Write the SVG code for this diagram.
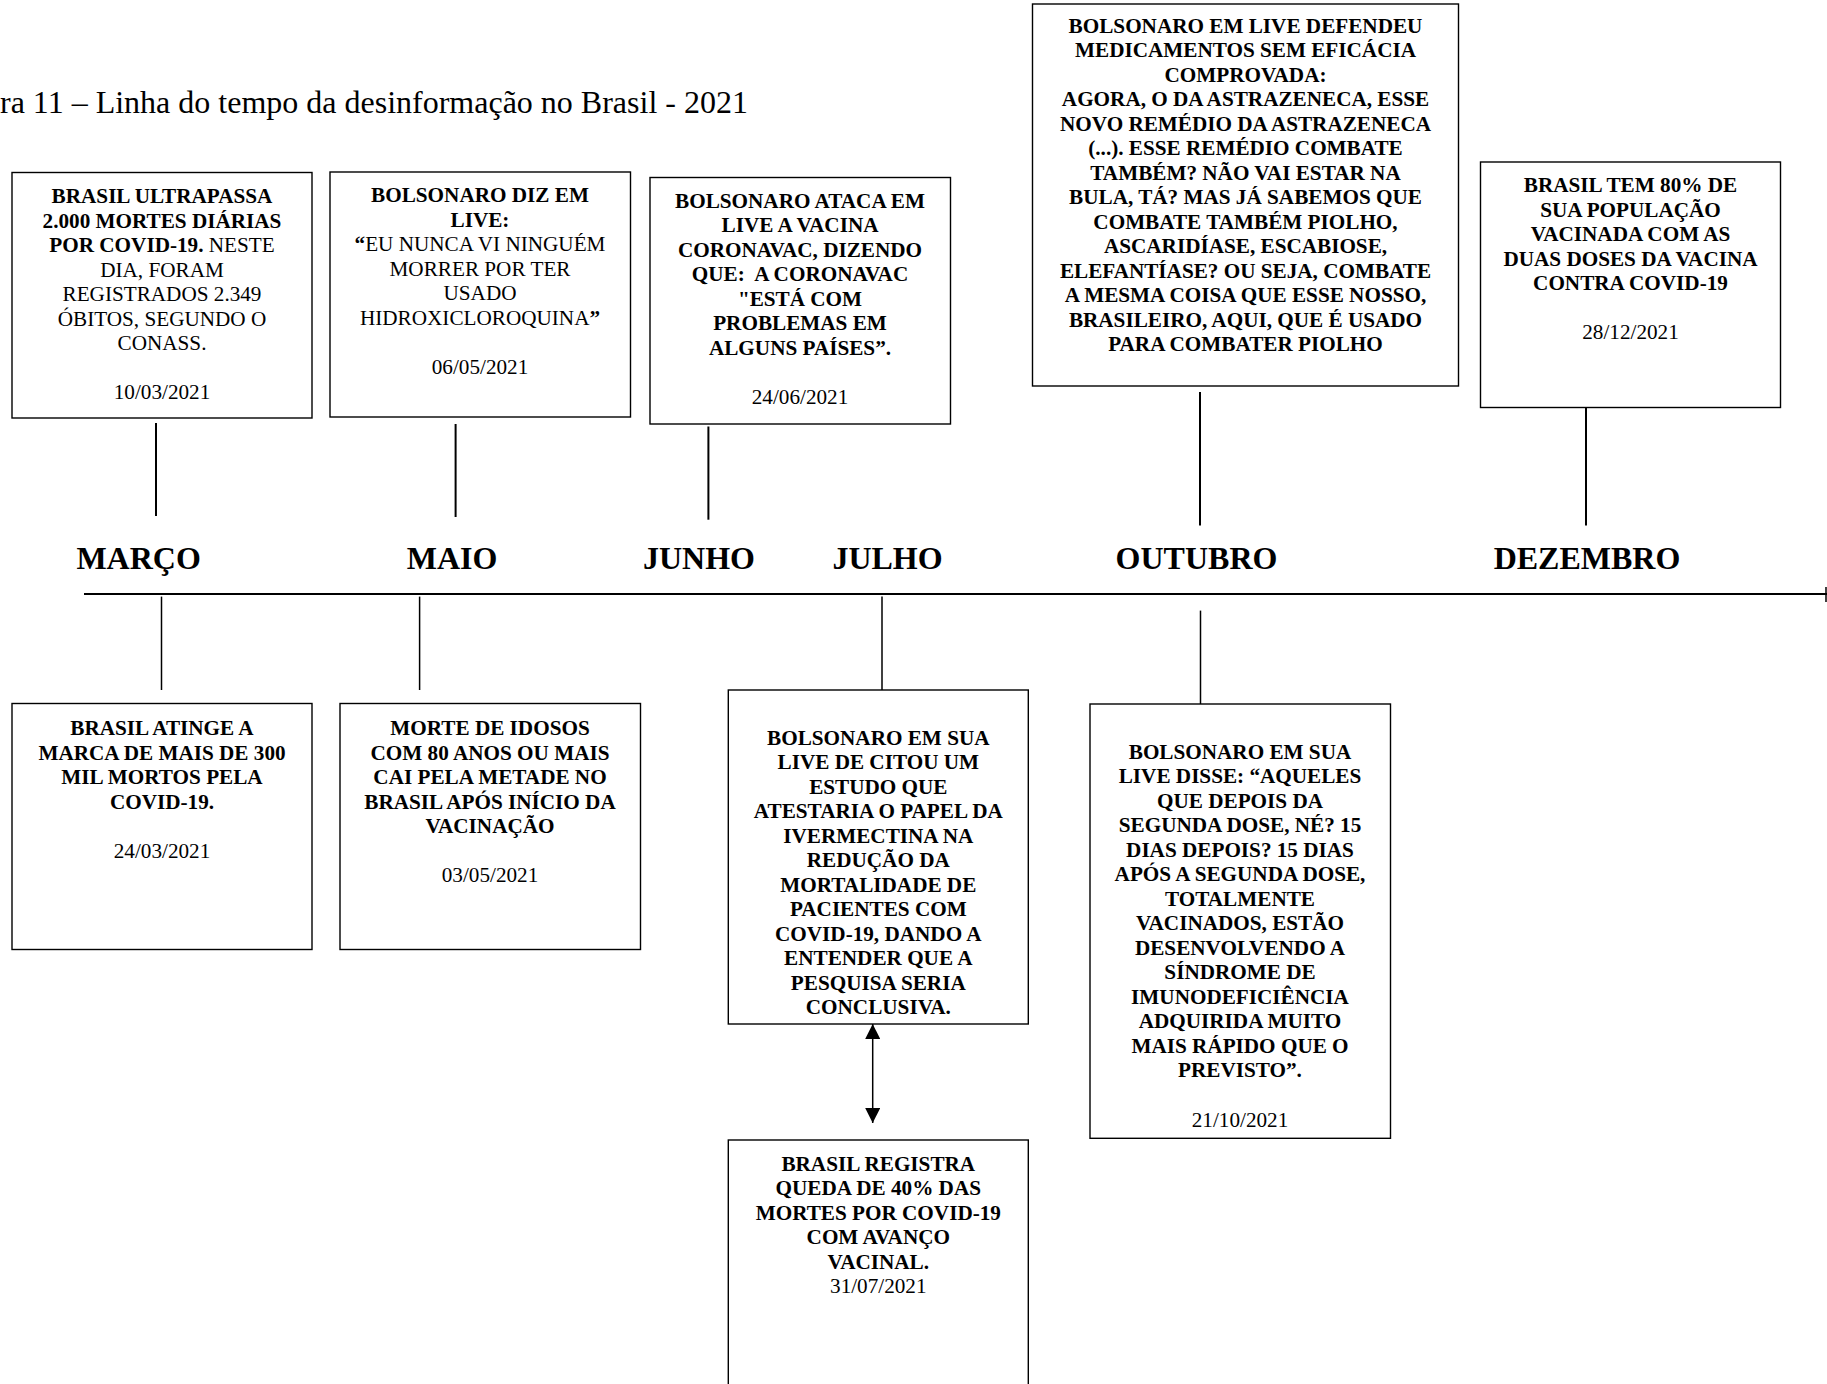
<svg xmlns="http://www.w3.org/2000/svg" width="1827" height="1384" viewBox="0 0 1827 1384">
<defs>
<style>
.box{fill:#fff;stroke:#000;stroke-width:1.4}
.t{font-family:"Liberation Serif","Times New Roman",serif;font-size:21.2px;font-weight:bold;text-anchor:middle;fill:#000}
.r{font-weight:normal}
.b{font-weight:bold}
.m{font-family:"Liberation Serif","Times New Roman",serif;font-size:32px;font-weight:bold;text-anchor:middle;fill:#000}
.title{font-family:"Liberation Serif","Times New Roman",serif;font-size:32px;fill:#000}
.c{stroke:#000;stroke-width:2;fill:none}
.c2{stroke:#000;stroke-width:1.5;fill:none}
</style>
<marker id="ah" viewBox="0 0 15 15" refX="15" refY="7.5" markerWidth="15" markerHeight="15" markerUnits="userSpaceOnUse" orient="auto-start-reverse">
<path d="M0,0 L15,7.5 L0,15 Z" fill="#000"/>
</marker>
</defs>
<rect width="1827" height="1384" fill="#fff"/>
<text class="title" x="0" y="113">ra 11 – Linha do tempo da desinformação no Brasil - 2021</text>

<g id="connectors">
<line class="c" x1="156" y1="423" x2="156" y2="516"/>
<line class="c" x1="455.6" y1="424" x2="455.6" y2="517"/>
<line class="c" x1="708.4" y1="426.5" x2="708.4" y2="519.7"/>
<line class="c" x1="1200" y1="392" x2="1200" y2="525.5"/>
<line class="c" x1="1586" y1="408" x2="1586" y2="525.5"/>
<line class="c" x1="84" y1="594" x2="1827" y2="594"/>
<line class="c2" x1="1826" y1="587" x2="1826" y2="602"/>
<line class="c2" x1="161.5" y1="596.6" x2="161.5" y2="690"/>
<line class="c2" x1="419.6" y1="596.6" x2="419.6" y2="690"/>
<line class="c2" x1="882" y1="596.6" x2="882" y2="690"/>
<line class="c2" x1="1200.5" y1="610.6" x2="1200.5" y2="704"/>
<line class="c2" x1="872.7" y1="1024" x2="872.7" y2="1123" marker-start="url(#ah)" marker-end="url(#ah)"/>
</g>

<g id="months">
<text class="m" x="138.6" y="568.5">MARÇO</text>
<text class="m" x="452" y="568.5">MAIO</text>
<text class="m" x="699" y="568.5">JUNHO</text>
<text class="m" x="887.5" y="568.5">JULHO</text>
<text class="m" x="1196.5" y="568.5">OUTUBRO</text>
<text class="m" x="1587" y="568.5">DEZEMBRO</text>
</g>

<g id="n1">
<rect class="box" x="12" y="172.5" width="300" height="245.5"/>
<text class="t" x="162" y="203.3">BRASIL ULTRAPASSA</text>
<text class="t" x="162" y="227.8">2.000 MORTES DIÁRIAS</text>
<text class="t" x="162" y="252.3">POR COVID-19.<tspan class="r"> NESTE</tspan></text>
<text class="t r" x="162" y="276.8">DIA, FORAM</text>
<text class="t r" x="162" y="301.3">REGISTRADOS 2.349</text>
<text class="t r" x="162" y="325.8">ÓBITOS, SEGUNDO O</text>
<text class="t r" x="162" y="350.3">CONASS.</text>
<text class="t r" x="162" y="399.3">10/03/2021</text>
</g>

<g id="n2">
<rect class="box" x="330" y="172" width="300.5" height="245"/>
<text class="t" x="480" y="202">BOLSONARO DIZ EM</text>
<text class="t" x="480" y="226.5">LIVE:</text>
<text class="t" x="480" y="251">“<tspan class="r">EU NUNCA VI NINGUÉM</tspan></text>
<text class="t r" x="480" y="275.5">MORRER POR TER</text>
<text class="t r" x="480" y="300">USADO</text>
<text class="t r" x="480" y="324.5">HIDROXICLOROQUINA<tspan class="b">”</tspan></text>
<text class="t r" x="480" y="373.5">06/05/2021</text>
</g>

<g id="n3">
<rect class="box" x="650" y="177.5" width="300.5" height="246.5"/>
<text class="t" x="800" y="207.5">BOLSONARO ATACA EM</text>
<text class="t" x="800" y="232">LIVE A VACINA</text>
<text class="t" x="800" y="256.5">CORONAVAC, DIZENDO</text>
<text class="t" x="800" y="281">QUE:&#160; A CORONAVAC</text>
<text class="t" x="800" y="305.5">"ESTÁ COM</text>
<text class="t" x="800" y="330">PROBLEMAS EM</text>
<text class="t" x="800" y="354.5">ALGUNS PAÍSES”.</text>
<text class="t r" x="800" y="403.5">24/06/2021</text>
</g>

<g id="n4">
<rect class="box" x="1032.5" y="4" width="426" height="382"/>
<text class="t" x="1245.5" y="32.6">BOLSONARO EM LIVE DEFENDEU</text>
<text class="t" x="1245.5" y="57.1">MEDICAMENTOS SEM EFICÁCIA</text>
<text class="t" x="1245.5" y="81.6">COMPROVADA:</text>
<text class="t" x="1245.5" y="106.1">AGORA, O DA ASTRAZENECA, ESSE</text>
<text class="t" x="1245.5" y="130.6">NOVO REMÉDIO DA ASTRAZENECA</text>
<text class="t" x="1245.5" y="155.1">(...). ESSE REMÉDIO COMBATE</text>
<text class="t" x="1245.5" y="179.6">TAMBÉM? NÃO VAI ESTAR NA</text>
<text class="t" x="1245.5" y="204.1">BULA, TÁ? MAS JÁ SABEMOS QUE</text>
<text class="t" x="1245.5" y="228.6">COMBATE TAMBÉM PIOLHO,</text>
<text class="t" x="1245.5" y="253.1">ASCARIDÍASE, ESCABIOSE,</text>
<text class="t" x="1245.5" y="277.6">ELEFANTÍASE? OU SEJA, COMBATE</text>
<text class="t" x="1245.5" y="302.1">A MESMA COISA QUE ESSE NOSSO,</text>
<text class="t" x="1245.5" y="326.6">BRASILEIRO, AQUI, QUE É USADO</text>
<text class="t" x="1245.5" y="351.1">PARA COMBATER PIOLHO</text>
</g>

<g id="n5">
<rect class="box" x="1480.5" y="162" width="300" height="245.5"/>
<text class="t" x="1630.5" y="192.3">BRASIL TEM 80% DE</text>
<text class="t" x="1630.5" y="216.8">SUA POPULAÇÃO</text>
<text class="t" x="1630.5" y="241.3">VACINADA COM AS</text>
<text class="t" x="1630.5" y="265.8">DUAS DOSES DA VACINA</text>
<text class="t" x="1630.5" y="290.3">CONTRA COVID-19</text>
<text class="t r" x="1630.5" y="339.3">28/12/2021</text>
</g>

<g id="n6">
<rect class="box" x="12" y="703.5" width="300" height="246"/>
<text class="t" x="162" y="735.3">BRASIL ATINGE A</text>
<text class="t" x="162" y="759.8">MARCA DE MAIS DE 300</text>
<text class="t" x="162" y="784.3">MIL MORTOS PELA</text>
<text class="t" x="162" y="808.8">COVID-19.</text>
<text class="t r" x="162" y="857.8">24/03/2021</text>
</g>

<g id="n7">
<rect class="box" x="340" y="703.5" width="300.5" height="246"/>
<text class="t" x="490" y="735.3">MORTE DE IDOSOS</text>
<text class="t" x="490" y="759.8">COM 80 ANOS OU MAIS</text>
<text class="t" x="490" y="784.3">CAI PELA METADE NO</text>
<text class="t" x="490" y="808.8">BRASIL APÓS INÍCIO DA</text>
<text class="t" x="490" y="833.3">VACINAÇÃO</text>
<text class="t r" x="490" y="882.3">03/05/2021</text>
</g>

<g id="n8">
<rect class="box" x="728.3" y="690" width="300" height="334"/>
<text class="t" x="878.3" y="744.6">BOLSONARO EM SUA</text>
<text class="t" x="878.3" y="769.1">LIVE DE CITOU UM</text>
<text class="t" x="878.3" y="793.6">ESTUDO QUE</text>
<text class="t" x="878.3" y="818.1">ATESTARIA O PAPEL DA</text>
<text class="t" x="878.3" y="842.6">IVERMECTINA NA</text>
<text class="t" x="878.3" y="867.1">REDUÇÃO DA</text>
<text class="t" x="878.3" y="891.6">MORTALIDADE DE</text>
<text class="t" x="878.3" y="916.1">PACIENTES COM</text>
<text class="t" x="878.3" y="940.6">COVID-19, DANDO A</text>
<text class="t" x="878.3" y="965.1">ENTENDER QUE A</text>
<text class="t" x="878.3" y="989.6">PESQUISA SERIA</text>
<text class="t" x="878.3" y="1014.1">CONCLUSIVA.</text>
</g>

<g id="n9">
<rect class="box" x="1090" y="704" width="300.5" height="434.3"/>
<text class="t" x="1240" y="758.6">BOLSONARO EM SUA</text>
<text class="t" x="1240" y="783.1">LIVE DISSE: “AQUELES</text>
<text class="t" x="1240" y="807.6">QUE DEPOIS DA</text>
<text class="t" x="1240" y="832.1">SEGUNDA DOSE, NÉ? 15</text>
<text class="t" x="1240" y="856.6">DIAS DEPOIS? 15 DIAS</text>
<text class="t" x="1240" y="881.1">APÓS A SEGUNDA DOSE,</text>
<text class="t" x="1240" y="905.6">TOTALMENTE</text>
<text class="t" x="1240" y="930.1">VACINADOS, ESTÃO</text>
<text class="t" x="1240" y="954.6">DESENVOLVENDO A</text>
<text class="t" x="1240" y="979.1">SÍNDROME DE</text>
<text class="t" x="1240" y="1003.6">IMUNODEFICIÊNCIA</text>
<text class="t" x="1240" y="1028.1">ADQUIRIDA MUITO</text>
<text class="t" x="1240" y="1052.6">MAIS RÁPIDO QUE O</text>
<text class="t" x="1240" y="1077.1">PREVISTO”.</text>
<text class="t r" x="1240" y="1127">21/10/2021</text>
</g>

<g id="n10">
<rect class="box" x="728.3" y="1140" width="300" height="270"/>
<text class="t" x="878.3" y="1170.5">BRASIL REGISTRA</text>
<text class="t" x="878.3" y="1195">QUEDA DE 40% DAS</text>
<text class="t" x="878.3" y="1219.5">MORTES POR COVID-19</text>
<text class="t" x="878.3" y="1244">COM AVANÇO</text>
<text class="t" x="878.3" y="1268.5">VACINAL.</text>
<text class="t r" x="878.3" y="1293">31/07/2021</text>
</g>
</svg>
